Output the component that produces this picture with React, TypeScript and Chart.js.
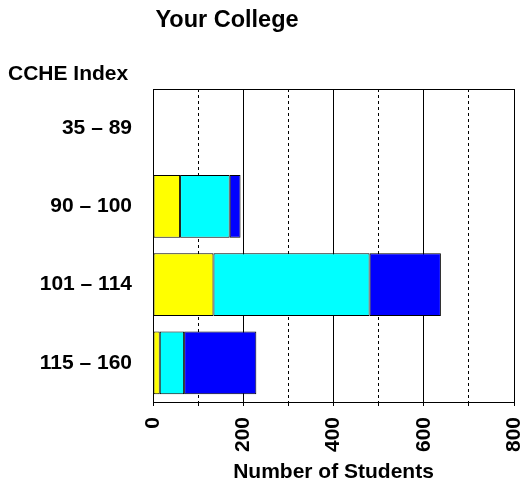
import React, { useEffect, useRef } from "react";
import { Chart, registerables } from "chart.js";

Chart.register(...registerables);

const categories = ["35 – 89", "90 – 100", "101 – 114", "115 – 160"];
const seriesNames = ["Group 1", "Group 2", "Group 3"];
const yellowValues = [0, 60, 134, 15];
const cyanValues = [0, 110, 346, 54];
const blueValues = [0, 24, 158, 160];
const labeledTicks = [0, 200, 400, 600, 800];

const FONT = "'Liberation Sans', Arial, Helvetica, sans-serif";

const textPlugin = {
  id: "frameAndText",
  afterDraw(chart: any) {
    const { ctx, chartArea: a } = chart;
    ctx.save();
    ctx.strokeStyle = "#000";
    ctx.lineWidth = 1;
    const top = Math.round(a.top) + 0.5;
    ctx.beginPath();
    ctx.moveTo(Math.round(a.left), top);
    ctx.lineTo(Math.round(a.right) + 1, top);
    ctx.stroke();

    ctx.fillStyle = "#000";
    ctx.font = `bold 23.5px ${FONT}`;
    ctx.textAlign = "center";
    ctx.textBaseline = "alphabetic";
    ctx.fillText("Your College", 227, 27);

    ctx.font = `bold 21px ${FONT}`;
    ctx.textAlign = "left";
    ctx.fillText("CCHE Index", 8, 80);
    ctx.restore();
  },
};

export default function App() {
  const ref = useRef<HTMLCanvasElement | null>(null);

  useEffect(() => {
    if (!ref.current) return;
    const colors = ["#FFFF00", "#00FFFF", "#0000FF"];
    const values = [yellowValues, cyanValues, blueValues];
    const chart = new Chart(ref.current, {
      type: "bar",
      data: {
        labels: categories,
        datasets: values.map((v, i) => ({
          label: seriesNames[i],
          data: v,
          backgroundColor: colors[i],
          borderColor: "#000",
          borderWidth: 1,
          borderSkipped: false,
          categoryPercentage: 1,
          barPercentage: 0.805,
        })),
      },
      options: {
        indexAxis: "y",
        responsive: false,
        animation: false,
        layout: { padding: { top: 89, right: 0, left: 0, bottom: 0 } },
        plugins: {
          legend: { display: false },
          tooltip: { enabled: false },
        },
        scales: {
          x: {
            stacked: true,
            min: 0,
            max: 800,
            ticks: {
              stepSize: 100,
              autoSkip: false,
              minRotation: 90,
              maxRotation: 90,
              color: "#000",
              padding: 11,
              font: { family: FONT, size: 21, weight: "bold" },
              callback: (v: any) => (labeledTicks.includes(Number(v)) ? String(v) : ""),
            },
            grid: {
              color: "#000",
              lineWidth: 1,
              drawTicks: true,
              tickLength: 4,
              tickColor: "#000",
            },
            border: {
              display: true,
              color: "#000",
              width: 1,
              dash: (ctx: any) =>
                ctx.tick && Number(ctx.tick.value) % 200 !== 0 ? [3, 3] : [],
            },
            title: {
              display: true,
              text: "Number of Students",
              color: "#000",
              font: { family: FONT, size: 21, weight: "bold" },
              padding: { top: 0, bottom: 0 },
            },
            afterFit: (s: any) => {
              s.height = 83;
              s.paddingLeft = 0;
              s.paddingRight = 12;
            },
          },
          y: {
            stacked: true,
            grid: { display: false, drawTicks: false },
            border: { display: true, color: "#000", width: 1 },
            ticks: {
              color: "#000",
              padding: 21,
              font: { family: FONT, size: 21, weight: "bold" },
            },
            afterFit: (s: any) => {
              s.width = 153;
            },
          },
        },
      },
      plugins: [textPlugin],
    });
    return () => chart.destroy();
  }, []);

  return (
    <div style={{ position: "fixed", left: 0, top: 0, width: 526, height: 485, background: "#fff" }}>
      <canvas ref={ref} width={526} height={485} style={{ display: "block" }} />
    </div>
  );
}
